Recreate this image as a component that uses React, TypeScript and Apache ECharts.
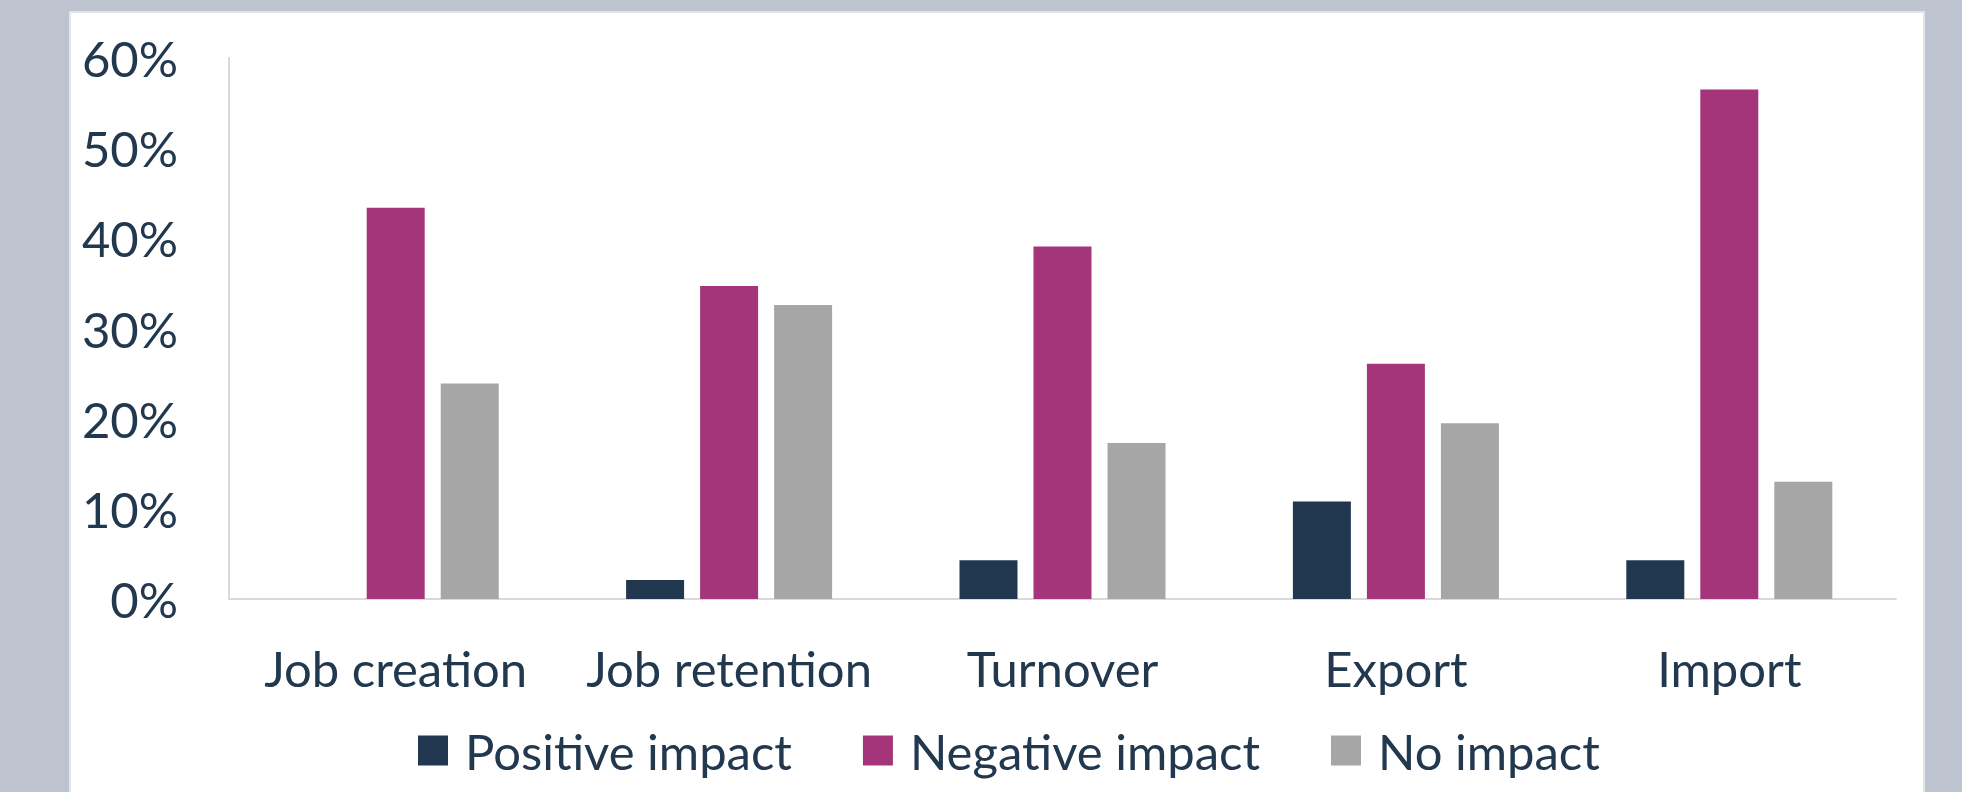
import React, { useEffect, useRef } from "react";
import * as echarts from "echarts";

const categories = ["Job creation", "Job retention", "Turnover", "Export", "Import"];
const positiveImpact = [0, 2.1, 4.3, 10.8, 4.3];
const negativeImpact = [43.4, 34.7, 39.1, 26.1, 56.5];
const noImpact = [23.9, 32.6, 17.3, 19.5, 13.0];
const seriesNames = ["Positive impact", "Negative impact", "No impact"];
const seriesColors = ["#21374F", "#A5357A", "#A6A6A6"];

const FONT = "Lato";
const TEXT = "#22384F";
const FS = 49;

export default function App() {
  const ref = useRef<HTMLDivElement>(null);
  useEffect(() => {
    document.body.style.margin = "0";
    const chart = echarts.init(ref.current!, undefined, { renderer: "svg" });
    const values = [positiveImpact, negativeImpact, noImpact];
    chart.setOption({
      animation: false,
      backgroundColor: "#BEC4CF",
      graphic: [
        {
          type: "rect",
          z: -10,
          shape: { x: 70, y: 12, width: 1854, height: 800 },
          style: { fill: "#FFFFFF", stroke: "#E2E4E8", lineWidth: 2 },
        },
      ],
      grid: { left: 229, right: 66, top: 58, bottom: 193, containLabel: false },
      legend: {
        top: 726,
        left: 418,
        padding: 0,
        itemWidth: 30,
        itemHeight: 30,
        itemGap: 71,
        icon: "rect",
        textStyle: { fontFamily: FONT, fontSize: FS, color: TEXT, padding: [0, 0, 0, 12] },
        data: seriesNames,
      },
      xAxis: {
        type: "category",
        data: categories,
        axisLine: { lineStyle: { color: "#D9D9D9", width: 2 } },
        axisTick: { show: false },
        axisLabel: { fontFamily: FONT, fontSize: FS, color: TEXT, margin: 44, interval: 0 },
      },
      yAxis: {
        type: "value",
        min: 0,
        max: 60,
        interval: 10,
        axisLine: { show: true, lineStyle: { color: "#D9D9D9", width: 2 } },
        axisTick: { show: false },
        splitLine: { show: false },
        axisLabel: {
          fontFamily: FONT,
          fontSize: FS,
          color: TEXT,
          margin: 51,
          formatter: (v: number) => v + "%",
        },
      },
      series: seriesNames.map((name, i) => ({
        name,
        type: "bar",
        data: values[i],
        barWidth: 58,
        barGap: "27.6%",
        itemStyle: { color: seriesColors[i] },
      })),
    });
    return () => chart.dispose();
  }, []);
  return (
    <div
      ref={ref}
      style={{ position: "fixed", left: 0, top: 0, width: 1962, height: 792 }}
    />
  );
}
